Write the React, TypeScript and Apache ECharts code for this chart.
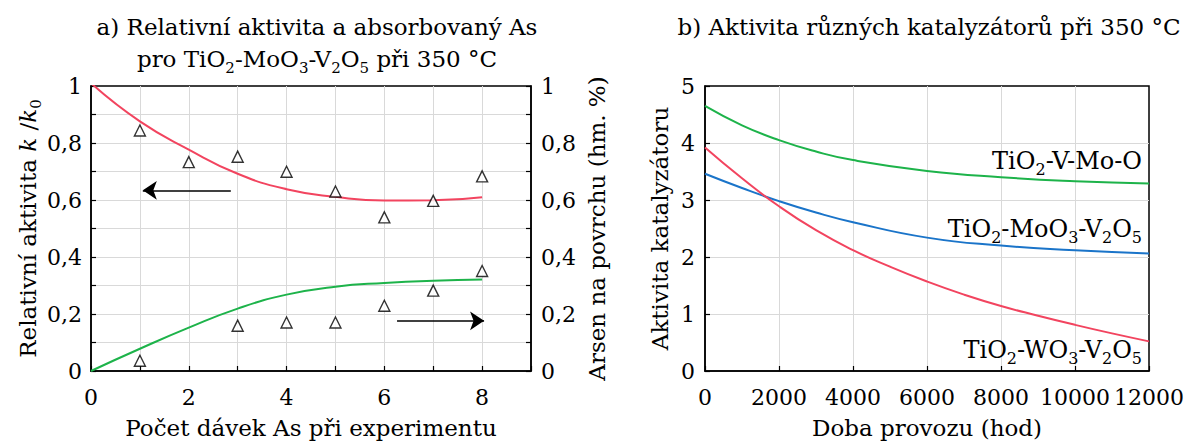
import React, { useEffect, useRef } from "react";
import * as echarts from "echarts";

const FONT = "DejaVu Serif";

// ---- Panel a) ----
const batchX = [0, 1, 2, 3, 4, 5, 6, 7, 8];
const activityFit = [1.01, 0.876, 0.777, 0.692, 0.638, 0.611, 0.598, 0.599, 0.61];
const arsenicFit = [0, 0.078, 0.152, 0.219, 0.268, 0.296, 0.309, 0.317, 0.321];
const activityX = [1, 2, 3, 4, 5, 6, 7, 8];
const activityMeasured = [0.844, 0.733, 0.752, 0.699, 0.63, 0.539, 0.597, 0.683];
const arsenicX = [1, 3, 4, 5, 6, 7, 8];
const arsenicMeasured = [0.036, 0.159, 0.17, 0.17, 0.229, 0.282, 0.351];
const arrowActivity = [[2.86, 0.634], [1.06, 0.634]];
const arrowArsenic = [[6.26, 0.176], [8.04, 0.176]];

// ---- Panel b) ----
const hoursA = [0, 1000, 2000, 3000, 4000, 6000, 8000, 10000, 12000];
const tiVMoO = [4.65, 4.31, 4.05, 3.85, 3.7, 3.51, 3.4, 3.33, 3.29];
const tiMoV = [3.46, 3.21, 2.98, 2.78, 2.61, 2.34, 2.2, 2.12, 2.06];
const hoursB = [0, 1000, 2000, 3000, 4000, 5000, 6000, 7000, 8000, 9000, 10000, 11000, 12000];
const tiWV = [3.92, 3.38, 2.89, 2.47, 2.12, 1.83, 1.57, 1.34, 1.14, 0.97, 0.81, 0.66, 0.52];
const labelPos = [
  [11812, 3.68],
  [11812, 2.49],
  [11812, 0.36],
];

const RED = "#f2445f";
const GREEN = "#1db34a";
const BLUE = "#1a74c9";
const GRID = "#d9d9d9";

const pairs = (xs: number[], ys: number[]) => ys.map((y, i) => [xs[i], y]);

const subStyle = (size: number) => ({
  fontFamily: FONT,
  fontSize: size,
  color: "#000",
  verticalAlign: "bottom" as const,
  lineHeight: Math.round(size * 1.1),
});

const tickFont = { fontFamily: FONT, fontSize: 22, color: "#000" };
const nameFont = { fontFamily: FONT, fontSize: 23, color: "#000" };

const commaLabel = (v: number) => {
  const r = Math.round(v * 10);
  if (r % 2 !== 0) return "";
  if (r === 0) return "0";
  if (r === 10) return "1";
  return "0," + r;
};

const tickCommon = { show: true, inside: true, length: 5, lineStyle: { color: "#000", width: 1.2 } };
const lineCommon = { show: true, lineStyle: { color: "#000", width: 1.5 } };
const splitCommon = { show: true, showMinLine: false, showMaxLine: false, lineStyle: { color: GRID, width: 1 } };

export default function App() {
  const ref = useRef<HTMLDivElement>(null);
  useEffect(() => {
    const chart = echarts.init(ref.current!, null, { renderer: "svg" });
    const option: any = {
      animation: false,
      textStyle: { fontFamily: FONT },
      title: [
        {
          text: "a) Relativní aktivita a absorbovaný As\npro TiO{s|2}-MoO{s|3}-V{s|2}O{s|5} při 350 °C",
          left: 312,
          top: 6,
          textAlign: "center",
          textStyle: {
            fontFamily: FONT,
            fontSize: 23,
            fontWeight: "normal",
            color: "#000",
            lineHeight: 32,
            rich: { s: subStyle(15) },
          },
        },
        {
          text: "b) Aktivita různých katalyzátorů při 350 °C",
          left: 924,
          top: 6,
          textAlign: "center",
          textStyle: { fontFamily: FONT, fontSize: 23, fontWeight: "normal", color: "#000", lineHeight: 32 },
        },
      ],
      grid: [
        { left: 91, top: 86, width: 440, height: 287, show: true, borderColor: "#000", borderWidth: 1.5 },
        { left: 705, top: 86, width: 447, height: 287, show: true, borderColor: "#000", borderWidth: 1.5 },
      ],
      xAxis: [
        {
          type: "value",
          gridIndex: 0,
          min: 0,
          max: 9,
          interval: 1,
          axisLine: lineCommon,
          axisTick: tickCommon,
          axisLabel: {
            ...tickFont,
            margin: 15,
            formatter: (v: number) => (v % 2 === 0 && v <= 8 ? String(v) : ""),
          },
          splitLine: splitCommon,
          name: "Počet dávek As při experimentu",
          nameLocation: "middle",
          nameGap: 45,
          nameTextStyle: nameFont,
        },
        {
          type: "value",
          gridIndex: 1,
          min: 0,
          max: 12000,
          interval: 2000,
          axisLine: lineCommon,
          axisTick: tickCommon,
          axisLabel: { ...tickFont, margin: 15, showMaxLabel: true, formatter: (v: number) => String(v) },
          splitLine: splitCommon,
          name: "Doba provozu (hod)",
          nameLocation: "middle",
          nameGap: 45,
          nameTextStyle: nameFont,
        },
      ],
      yAxis: [
        {
          type: "value",
          gridIndex: 0,
          position: "left",
          min: 0,
          max: 1,
          interval: 0.1,
          axisLine: lineCommon,
          axisTick: tickCommon,
          axisLabel: { ...tickFont, margin: 9, formatter: commaLabel },
          splitLine: splitCommon,
          name: "Relativní aktivita {i|k} /{i|k}{s|0}",
          nameLocation: "middle",
          nameRotate: 90,
          nameGap: 44,
          nameTextStyle: {
            ...nameFont,
            lineHeight: 30,
            rich: {
              i: { fontFamily: FONT, fontSize: 23, color: "#000", fontStyle: "italic", lineHeight: 30 },
              s: subStyle(15),
            },
          },
        },
        {
          type: "value",
          gridIndex: 0,
          position: "right",
          min: 0,
          max: 1,
          interval: 0.1,
          axisLine: lineCommon,
          axisTick: tickCommon,
          axisLabel: { ...tickFont, margin: 10, formatter: commaLabel },
          splitLine: { show: false },
          name: "Arsen na povrchu (hm. %)",
          nameLocation: "middle",
          nameRotate: 90,
          nameGap: 54,
          nameTextStyle: nameFont,
        },
        {
          type: "value",
          gridIndex: 1,
          min: 0,
          max: 5,
          interval: 1,
          axisLine: lineCommon,
          axisTick: tickCommon,
          axisLabel: { ...tickFont, margin: 10 },
          splitLine: splitCommon,
          name: "Aktivita katalyzátoru",
          nameLocation: "middle",
          nameRotate: 90,
          nameGap: 34,
          nameTextStyle: nameFont,
        },
      ],
      series: [
        {
          type: "line",
          xAxisIndex: 0,
          yAxisIndex: 0,
          data: pairs(batchX, activityFit),
          smooth: true,
          showSymbol: false,
          lineStyle: { color: RED, width: 2 },
          itemStyle: { color: RED },
          z: 3,
          markLine: {
            silent: true,
            symbol: ["none", "arrow"],
            symbolSize: 14,
            label: { show: false },
            lineStyle: { color: "#000", width: 1.5, type: "solid" },
            data: [[{ coord: arrowActivity[0] }, { coord: arrowActivity[1] }]],
          },
        },
        {
          type: "line",
          xAxisIndex: 0,
          yAxisIndex: 1,
          data: pairs(batchX, arsenicFit),
          smooth: true,
          showSymbol: false,
          lineStyle: { color: GREEN, width: 2 },
          itemStyle: { color: GREEN },
          z: 3,
          markLine: {
            silent: true,
            symbol: ["none", "arrow"],
            symbolSize: 14,
            label: { show: false },
            lineStyle: { color: "#000", width: 1.5, type: "solid" },
            data: [[{ coord: arrowArsenic[0] }, { coord: arrowArsenic[1] }]],
          },
        },
        {
          type: "scatter",
          xAxisIndex: 0,
          yAxisIndex: 0,
          data: pairs(activityX, activityMeasured),
          symbol: "triangle",
          symbolSize: 11,
          itemStyle: { color: "#fff", borderColor: "#000", borderWidth: 1.4 },
          z: 4,
        },
        {
          type: "scatter",
          xAxisIndex: 0,
          yAxisIndex: 1,
          data: pairs(arsenicX, arsenicMeasured),
          symbol: "triangle",
          symbolSize: 11,
          itemStyle: { color: "#fff", borderColor: "#000", borderWidth: 1.4 },
          z: 4,
        },
        ...[
          { ys: tiVMoO, xs: hoursA, color: GREEN, label: "TiO{s|2}-V-Mo-O", pos: labelPos[0] },
          { ys: tiMoV, xs: hoursA, color: BLUE, label: "TiO{s|2}-MoO{s|3}-V{s|2}O{s|5}", pos: labelPos[1] },
          { ys: tiWV, xs: hoursB, color: RED, label: "TiO{s|2}-WO{s|3}-V{s|2}O{s|5}", pos: labelPos[2] },
        ].map((s) => ({
          type: "line",
          xAxisIndex: 1,
          yAxisIndex: 2,
          data: pairs(s.xs, s.ys),
          smooth: true,
          showSymbol: false,
          lineStyle: { color: s.color, width: 2 },
          itemStyle: { color: s.color },
          markPoint: {
            silent: true,
            symbol: "circle",
            symbolSize: 0,
            data: [{ coord: s.pos }],
            label: {
              show: true,
              position: "left",
              distance: 0,
              formatter: s.label,
              fontFamily: FONT,
              fontSize: 24,
              color: "#000",
              lineHeight: 32,
              rich: { s: subStyle(16) },
            },
          },
        })),
      ],
    };
    chart.setOption(option);
    return () => chart.dispose();
  }, []);
  return <div ref={ref} style={{ position: "absolute", left: 0, top: 0, width: 1187, height: 444 }} />;
}
